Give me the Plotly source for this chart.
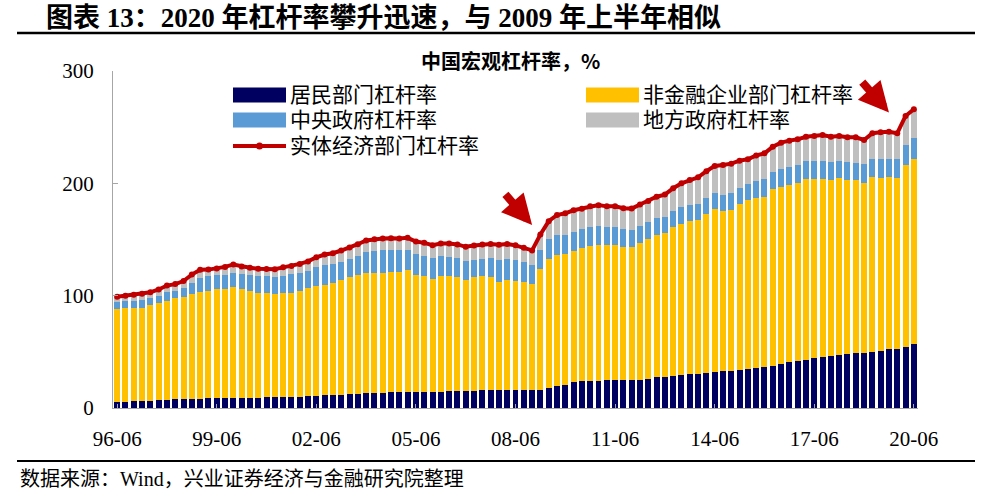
import pandas as pd
import plotly.graph_objects as go

# ---------------- data ----------------
quarters = [f"{p.year % 100:02d}-{p.quarter * 3:02d}"
            for p in pd.period_range("1996Q2", "2020Q2", freq="Q")]

household = [5.6, 5.6, 5.9, 6.2, 6.5, 7.1, 7.4, 7.7, 8.0, 8.0,
             8.3, 8.6, 8.9, 8.9, 9.2, 9.2, 9.2, 9.2, 9.5, 9.5,
             9.8, 9.8, 10.1, 10.4, 10.8, 11.2, 11.6, 11.9, 12.3, 12.6,
             13.0, 13.3, 13.6, 13.9, 14.2, 14.4, 14.5, 14.5, 14.4, 14.5,
             14.8, 14.8, 15.1, 15.4, 15.6, 15.7, 15.7, 16.0, 16.0, 16.0,
             15.9, 16.3, 17.8, 19.9, 20.8, 22.8, 24.0, 24.3, 24.3, 24.9,
             25.2, 25.2, 24.9, 25.2, 26.1, 27.3, 27.9, 28.8, 29.7, 30.3,
             30.5, 31.5, 32.4, 32.7, 33.0, 33.8, 35.0, 35.9, 36.8, 37.7,
             39.2, 40.7, 41.8, 43.0, 44.5, 45.4, 46.0, 46.9, 48.1, 49.0,
             49.3, 50.2, 51.1, 52.2, 52.8, 54.6, 57.0]

corporate = [82.2, 83.1, 83.4, 83.1, 84.9, 86.1, 88.2, 89.9, 91.1, 93.5,
             94.7, 95.9, 96.7, 97.3, 98.2, 97.0, 95.3, 93.5, 92.6, 92.3,
             92.7, 93.0, 94.4, 96.4, 97.7, 98.3, 99.7, 102.2, 104.0, 105.8,
             106.9, 107.3, 107.0, 107.0, 106.9, 108.2, 104.0, 102.8, 100.7, 102.7,
             102.8, 102.1, 99.1, 100.9, 101.6, 100.9, 96.8, 97.6, 97.2, 96.0,
             94.5, 107.2, 114.8, 116.3, 116.0, 117.3, 118.4, 119.9, 121.2, 119.9,
             119.6, 118.4, 118.7, 122.0, 124.3, 126.7, 128.2, 132.0, 134.4, 136.2,
             136.9, 141.2, 144.5, 142.7, 143.3, 147.5, 150.2, 150.7, 151.0, 157.3,
             157.2, 157.8, 158.2, 160.9, 159.7, 158.8, 157.0, 157.6, 154.9, 153.7,
             151.3, 155.1, 154.0, 153.1, 151.7, 161.7, 164.7]

central_gov = [6.9, 6.6, 6.3, 6.8, 6.2, 6.3, 7.4, 6.9, 7.4, 9.5,
               12.5, 12.7, 12.4, 12.4, 13.2, 13.4, 13.6, 14.9, 15.4, 15.0,
               15.3, 16.1, 16.0, 15.4, 16.9, 17.8, 16.9, 15.8, 16.5, 17.2,
               19.3, 19.5, 20.1, 20.1, 19.2, 18.1, 18.6, 18.0, 18.1, 17.7,
               16.9, 16.3, 16.8, 15.7, 15.6, 16.6, 18.9, 19.3, 18.3, 17.7,
               17.1, 17.2, 17.5, 17.8, 17.6, 16.9, 16.8, 16.6, 16.5, 16.6,
               16.0, 15.5, 14.9, 14.8, 15.2, 14.8, 14.2, 14.6, 14.5, 14.2,
               14.2, 13.9, 14.2, 14.5, 14.8, 14.2, 14.2, 15.2, 15.8, 15.4,
               16.1, 15.7, 16.0, 15.7, 16.0, 16.0, 16.0, 15.7, 16.0, 15.7,
               16.6, 16.1, 16.3, 16.4, 16.9, 17.8, 18.4]

local_gov = [4.3, 4.7, 5.2, 5.7, 5.4, 6.0, 6.0, 5.8, 6.5, 7.8,
             7.5, 6.0, 6.2, 7.0, 7.2, 6.4, 6.7, 6.4, 6.3, 6.8,
             7.4, 7.5, 7.8, 8.3, 8.8, 9.3, 9.6, 10.3, 10.0, 10.2,
             9.9, 10.1, 10.1, 10.1, 10.5, 10.8, 11.1, 11.7, 11.7, 11.5,
             12.0, 12.4, 12.5, 12.7, 12.8, 12.8, 13.9, 13.1, 13.3, 13.0,
             12.8, 13.8, 16.2, 17.8, 18.9, 19.0, 18.2, 18.7, 18.6, 18.1,
             18.7, 18.7, 19.0, 19.2, 18.6, 19.3, 19.7, 20.2, 21.4, 22.3,
             23.8, 24.2, 24.4, 26.4, 26.4, 24.7, 22.0, 23.0, 23.1, 22.2,
             23.7, 23.8, 23.2, 21.9, 21.9, 22.8, 22.5, 21.9, 22.0, 22.6,
             21.4, 23.2, 24.0, 24.3, 23.2, 25.9, 25.8]

real_economy = [99.0, 100.0, 100.8, 101.8, 103.0, 105.5, 109.0, 110.3, 113.0, 118.8,
                123.0, 123.2, 124.2, 125.6, 127.8, 126.0, 124.8, 124.0, 123.8, 123.6,
                125.2, 126.4, 128.3, 130.5, 134.2, 136.6, 137.8, 140.2, 142.8, 145.8,
                149.1, 150.2, 150.8, 151.1, 150.8, 151.5, 148.2, 147.0, 144.9, 146.4,
                146.5, 145.6, 143.5, 144.7, 145.6, 146.0, 145.3, 146.0, 144.8, 142.7,
                140.3, 154.5, 166.3, 171.8, 173.3, 176.0, 177.4, 179.5, 180.6, 179.5,
                179.5, 177.8, 177.5, 181.2, 184.2, 188.1, 190.0, 195.6, 200.0, 203.0,
                205.4, 210.8, 215.5, 216.3, 217.5, 220.2, 221.4, 224.8, 226.7, 232.6,
                236.2, 238.0, 239.2, 241.5, 242.1, 243.0, 241.5, 242.1, 241.0, 241.0,
                238.6, 244.6, 245.4, 246.0, 244.6, 260.0, 265.9]

tick_labels = ["96-06", "99-06", "02-06", "05-06", "08-06",
               "11-06", "14-06", "17-06", "20-06"]
y_ticks = [0, 100, 200, 300]

names = ["居民部门杠杆率", "非金融企业部门杠杆率", "中央政府杠杆率",
         "地方政府杠杆率", "实体经济部门杠杆率"]
colors = ["#000060", "#FFC000", "#5B9BD5", "#BFBFBF", "#C00000"]

# ---------------- figure ----------------
W, H = 989, 493
L, R, T, B = 113, 918, 71, 408


def px(x):
    return (x - L) / (R - L)


def py(y):
    return (B - y) / (B - T)


SERIF = "Liberation Serif, Noto Sans CJK SC, serif"
SANS = "Noto Sans CJK SC, sans-serif"

fig = go.Figure()
for vals, nm, col in zip([household, corporate, central_gov, local_gov],
                         names[:4], colors[:4]):
    fig.add_trace(go.Bar(x=quarters, y=vals, name=nm, marker_color=col,
                         marker_line_width=0, showlegend=False))

fig.add_trace(go.Scatter(x=quarters, y=real_economy, name=names[4],
                         mode="lines+markers",
                         line=dict(color=colors[4], width=4),
                         marker=dict(color=colors[4], size=6),
                         showlegend=False))

fig.update_layout(
    width=W, height=H,
    margin=dict(l=L, r=W - R, t=T, b=H - B),
    barmode="stack", bargap=0.28,
    plot_bgcolor="white", paper_bgcolor="white",
    font=dict(family=SERIF, color="black"),
    showlegend=False,
)
fig.update_xaxes(type="category", range=[-0.5, len(quarters) - 0.5],
                 tickmode="array", tickvals=tick_labels, ticktext=tick_labels,
                 showline=True, linecolor="#A6A6A6", linewidth=1,
                 ticks="inside", ticklen=4, tickcolor="#A6A6A6",
                 showgrid=False, tickangle=0,
                 tickfont=dict(family=SERIF, size=21, color="black"),
                 ticklabelstandoff=12)
fig.update_yaxes(range=[0, 300], tickmode="array", tickvals=y_ticks,
                 showline=True, linecolor="#A6A6A6", linewidth=1,
                 ticks="inside", ticklen=5, tickcolor="#A6A6A6",
                 showgrid=False, zeroline=False,
                 tickfont=dict(family=SERIF, size=21, color="black"),
                 ticklabelstandoff=14)

shapes = []
annotations = []

# title & rules
annotations.append(dict(text="图表 13：2020 年杠杆率攀升迅速，与 2009 年上半年相似",
                        x=px(44), y=py(18), xref="paper", yref="paper",
                        xanchor="left", yanchor="middle", showarrow=False,
                        font=dict(family=SERIF, size=27, color="black", weight="bold")))
shapes.append(dict(type="line", xref="paper", yref="paper",
                   x0=px(17), x1=px(975), y0=py(33), y1=py(33),
                   line=dict(color="black", width=2.5)))
shapes.append(dict(type="line", xref="paper", yref="paper",
                   x0=px(17), x1=px(975), y0=py(461), y1=py(461),
                   line=dict(color="black", width=2)))
annotations.append(dict(text="数据来源：Wind，兴业证券经济与金融研究院整理",
                        x=px(18), y=py(479), xref="paper", yref="paper",
                        xanchor="left", yanchor="middle", showarrow=False,
                        font=dict(family=SERIF, size=20, color="black")))
annotations.append(dict(text="中国宏观杠杆率，%",
                        x=px(510), y=py(60), xref="paper", yref="paper",
                        xanchor="center", yanchor="middle", showarrow=False,
                        font=dict(family=SANS, size=20, color="black", weight="bold")))

# legend (two columns)
legend_pos = [(233, 95), (586, 95), (233, 120), (586, 120), (233, 146)]
for (lx, ly), nm, col, i in zip(legend_pos, names, colors, range(5)):
    if i < 4:
        shapes.append(dict(type="rect", xref="paper", yref="paper",
                           x0=px(lx), x1=px(lx + 53), y0=py(ly - 7.5), y1=py(ly + 7.5),
                           fillcolor=col, line=dict(width=0)))
    else:
        shapes.append(dict(type="line", xref="paper", yref="paper",
                           x0=px(lx), x1=px(lx + 53), y0=py(ly), y1=py(ly),
                           line=dict(color=col, width=4)))
        shapes.append(dict(type="circle", xref="paper", yref="paper",
                           x0=px(lx + 23), x1=px(lx + 30), y0=py(ly - 3.5), y1=py(ly + 3.5),
                           fillcolor=col, line=dict(width=0)))
    annotations.append(dict(text=nm, x=px(lx + 55), y=py(ly), xref="paper", yref="paper",
                            xanchor="left", yanchor="middle", showarrow=False,
                            font=dict(family=SERIF, size=21, color="black")))

# arrows
for xc, yv, axp, ayp in [("08-12", 163, -28, -32), ("19-09", 263, -28, -32)]:
    annotations.append(dict(x=xc, y=yv, xref="x", yref="y", text="",
                            showarrow=True, ax=axp, ay=ayp,
                            arrowcolor="#C00000", arrowwidth=8,
                            arrowhead=2, arrowsize=0.75))

fig.update_layout(shapes=shapes, annotations=annotations)
fig.write_html("out.html",
               config={"displayModeBar": False},
               post_script="document.body.style.margin='0';"
                           "document.body.style.padding='0';")
